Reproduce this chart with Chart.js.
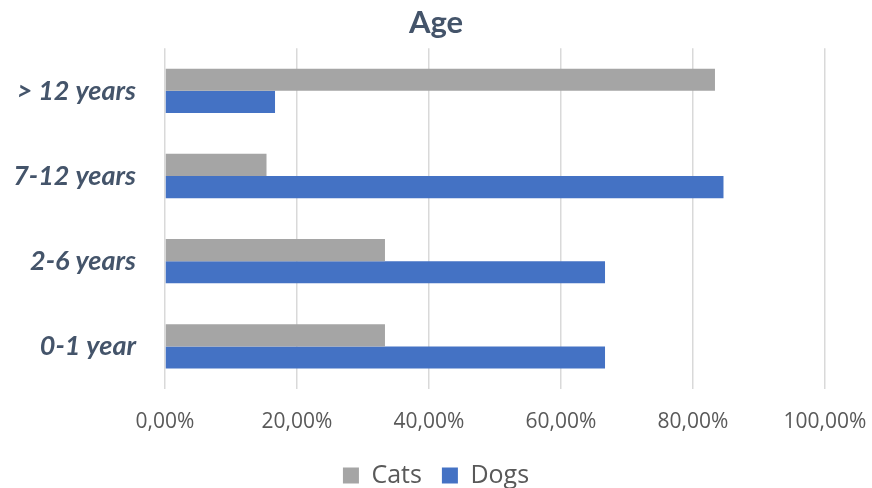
<!DOCTYPE html>
<html>
<head>
<meta charset="utf-8">
<script src="https://cdn.jsdelivr.net/npm/chart.js@4"></script>
<style>
  html, body { margin: 0; padding: 0; background: #fff; }
  #wrap { width: 872px; height: 488px; }
</style>
</head>
<body>
<div id="wrap"><canvas id="grafico"></canvas></div>
<script>
// edades y porcentajes por especie
const categorias = ["> 12 years", "7-12 years", "2-6 years", "0-1 year"];
const gatos = [83.33, 15.38, 33.33, 33.33];
const perros = [16.67, 84.62, 66.67, 66.67];
const ticksX = [0, 20, 40, 60, 80, 100];

const colorTexto = "#44546A";
const colorEjes = "#595959";

const config = {
  type: "bar",
  data: {
    labels: categorias,
    datasets: [
      { label: "Cats", data: gatos, backgroundColor: "#A5A5A5" },
      { label: "Dogs", data: perros, backgroundColor: "#4472C4" }
    ]
  },
  options: {
    indexAxis: "y",
    responsive: true,
    maintainAspectRatio: false,
    animation: false,
    categoryPercentage: 0.52,
    barPercentage: 1,
    layout: { padding: { left: 0, right: 0, top: 4, bottom: -10 } },
    plugins: {
      title: {
        display: true,
        text: "Age",
        color: colorTexto,
        font: { family: "Lato", size: 31, weight: "bold" },
        padding: { top: 0, bottom: 7 }
      },
      legend: {
        position: "bottom",
        labels: {
          color: colorEjes,
          font: { family: "Open Sans", size: 25 },
          boxWidth: 16,
          boxHeight: 16,
          padding: 20
        }
      },
      tooltip: { enabled: false }
    },
    scales: {
      x: {
        min: 0,
        max: 100,
        afterBuildTicks: (axis) => {
          axis.ticks = ticksX.map(v => ({ value: v }));
        },
        afterFit: (axis) => {
          // alto fijo del eje y margen derecho para la ultima etiqueta
          axis.height = 54;
          axis.paddingRight = 47;
        },
        grid: { color: "#D9D9D9", lineWidth: 1.5, drawTicks: false },
        border: { display: false },
        ticks: {
          color: colorEjes,
          font: { family: "Open Sans", size: 21 },
          padding: 20,
          callback: (v) => v.toFixed(2).replace(".", ",") + "%"
        }
      },
      y: {
        afterFit: (axis) => { axis.width = 165; },
        grid: { display: false },
        border: { display: false },
        ticks: {
          color: colorTexto,
          font: { family: "Lato", size: 27, weight: "bold", style: "italic" },
          padding: 21
        }
      }
    }
  }
};

new Chart(document.getElementById("grafico"), config);
</script>
</body>
</html>
